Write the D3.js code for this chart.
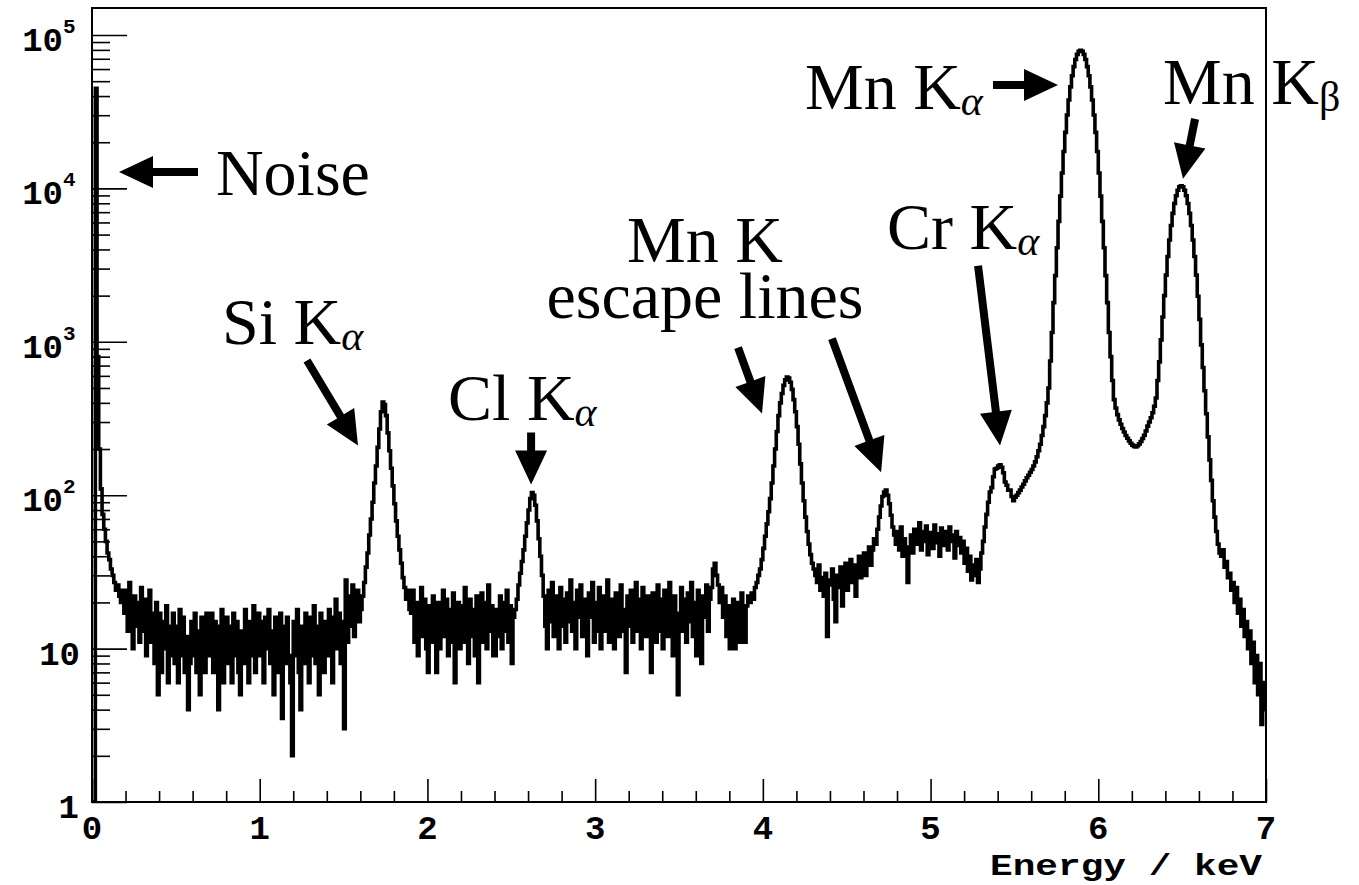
<!DOCTYPE html>
<html><head><meta charset="utf-8">
<script src="https://cdn.jsdelivr.net/npm/d3@7"></script>
<style>body{margin:0;background:#fff}</style>
</head><body>
<svg id="c" width="1359" height="885"></svg>
<script>
// ---- data: counts per 0.01 keV bin ----
const binWidth = 0.01;
const countsNoisePeak = [1,1,45000,800,200,110,75,60,50,42,38,33,30,27,24,26,22,20,24,17];
const countsLow = [
  24,13,27,16,10,22,14,20,11,25,
  13,21,9,18,24,11,17,8,20,5,
  17,7,15,10,19,6,14,9,17,8,
  14,6,18,9,16,7,12,4,8,15,
  9,17,7,13,5,16,10,7,17,9,
  13,17,7,15,8,4,14,18,6,12,
  16,8,14,6,17,9,15,7,5,13,
  8,18,11,6,15,9,19,7,14,17,
  9,15,6,16,10,18,8,13,5,16,
  11,7,17,3.5,14,8,16,9,6,2,
  15,9,18,7,4,14,8,17,10,6,
  16,9,19,8,14,5,17,10,7,15,
  9,18,12,6,16,21,10,17,8,15,
  3,28,11,22,14,26,12,19,24,15];
const countsSi = [18,22,27,34,42,55,70,90,120,155,205,270,350,405,390,330,255,195,150,115,
  88,68,54,44,36,29,25,21,24,18];
const countsSiCl = [
  17,24,11,20,9,18,25,12,21,10,
  7,19,11,22,14,7,20,10,17,24,
  12,21,9,18,11,23,6,16,20,10,
  19,11,25,13,8,21,12,18,9,22,
  6,17,23,11,20,10,26,13,19,9,
  9,18,12,22,10,20,13,24,11,19,
  8,16];
const countsCl = [18,21,26,31,37,44,54,66,80,95,104,100,86,68,52,40,30,22,14,10];
const countsClEsc = [
  24,15,27,12,22,17,10,25,14,21,
  11,23,15,28,13,20,10,24,16,26,
  12,21,15,9,23,16,27,11,20,13,
  25,10,19,22,13,28,11,21,15,10,
  23,15,12,26,18,13,7,22,14,24,
  11,20,27,13,21,10,25,15,12,22,
  14,7,23,17,11,26,13,21,10,24,
  16,12,27,18,9,22,14,5,17,25,
  13,21,11,23,15,27,12,20,9,24,
  15,8,22,16,26,13,21,25,33,36,
  30,26,20,25,16,22,12,19,10,17,
  21,10,14,20,11,23,15,11,19,22];
const countsEsc1 = [20,23,21,25,27,30,33,38,45,54,65,78,95,120,155,200,260,330,400,460,
  520,565,590,580,545,490,420,350,280,215,160,120,92,72,58,48,41,36];
const countsEsc2 = [
  33,30,27,35,24,29,22,31,12,26,
  28,33,21,15,30,25,34,19,28,36,
  24,31,38,27,35,22,33,40,29,37,
  42,30,39,46,35,44,52,48,60,72,
  85,98,105,108,100,88,74,62,55,48,
  58,44,62,40,52,42,27,46,55,42,
  60,48,55,66,44,58,50,63,41,57,
  52,45,64,49,56,40,61,53,47,58,
  44,62,50,55,39,58,47,53,42,50,
  36,45,32,40,28,35,30,38,27,33,
  42,50];
const countsCr = [62,75,90,105,112,132,148,150,155,158,152,140,122,116,108,108,98,92,97,100,
  104,108,113,118,124,130,135,141];
const countsMnKa = [
  147,155,165,178,195,215,245,280,330,400,
  500,750,1150,1800,2700,4100,6100,8900,12600,17400,
  23200,30100,37700,45900,54300,62200,69300,74800,78200,79400,
  78200,74800,69300,62200,54300,45900,37700,30100,23200,17400,
  12600,8900,6100,4100,2700,1800,1150,800,560,420,
  370,335,310,290,272,258,245,235,226,218];
const countsMnKb = [
  212,208,206,210,216,224,234,246,262,282,
  300,320,345,380,430,560,740,1030,1450,2000,
  2720,3600,4610,5730,6870,7980,8950,9730,10230,10400,
  10230,9730,8950,7980,6870,5730,4610,3600,2720,1980,
  1400,955,680,480,340,240,170,125,92,72,
  58,48,42,40,44,34,37,29,31,24,
  27,20,25,17,21,14,18,12,15,10,
  13,8,11,6,9,5,8,3.2,6,4];
const counts = [].concat(countsNoisePeak, countsLow, countsSi, countsSiCl, countsCl,
  countsClEsc, countsEsc1, countsEsc2, countsCr, countsMnKa, countsMnKb);

const xTicks = [0,1,2,3,4,5,6,7];
const yDecades = [0,1,2,3,4,5];

// annotations in data coordinates [keV, counts]
const labels = [
  {t:"Noise", s:"", x:0.739, y:9080, a:"start"},
  {t:"Si K", s:"α", x:0.775, y:973, a:"start"},
  {t:"Cl K", s:"α", x:2.123, y:307, a:"start"},
  {t:"Mn K", s:"", x:3.655, y:3300, a:"middle"},
  {t:"escape lines", s:"", x:3.655, y:1438, a:"middle"},
  {t:"Cr K", s:"α", x:4.740, y:4045, a:"start"},
  {t:"Mn K", s:"α", x:4.251, y:33000, a:"start"},
  {t:"Mn K", s:"β", x:6.386, y:35550, a:"start"}
];
const arrows = [
  [[0.632,12820],[0.161,12820]],
  [[1.282,755],[1.586,211]],
  [[2.618,256],[2.618,117.6]],
  [[3.852,917],[3.995,341]],
  [[4.412,1050],[4.705,141]],
  [[5.283,3133],[5.414,211]],
  [[5.372,47230],[5.760,47230]],
  [[6.577,28380],[6.505,11550]]
];

// ---- drawing ----
const svg = d3.select("#c");
const L=92, R=1266, T=8, B=802;
const x = d3.scaleLinear().domain([0,7]).range([L,R]);
const y = d3.scaleLog().domain([1,1.5e5]).range([B,T]);

svg.append("defs").append("clipPath").attr("id","clip")
  .append("rect").attr("x",L).attr("y",T).attr("width",R-L).attr("height",B-T);

const pts = counts.map((c,i)=>[i*binWidth, c]);
pts.push([counts.length*binWidth, counts[counts.length-1]]);
const line = d3.line().x(d=>x(d[0])).y(d=>y(d[1])).curve(d3.curveStepAfter);
svg.append("path").attr("d", line(pts)).attr("clip-path","url(#clip)")
  .attr("fill","none").attr("stroke","#000").attr("stroke-width",3.6);

// ticks
const majY = yDecades.map(e=>Math.pow(10,e));
const minY = [];
yDecades.forEach(e=>{ for(let k=2;k<=9;k++){ const v=k*Math.pow(10,e); if(v<1.5e5) minY.push(v);} });
function styleAxis(g){ g.select(".domain").remove(); g.selectAll("line").attr("stroke","#000").attr("stroke-width",1.6); g.selectAll("text").remove(); }
svg.append("g").attr("transform",`translate(${L},0)`)
  .call(d3.axisLeft(y).tickValues(majY).tickSize(-35).tickFormat("")).call(styleAxis);
svg.append("g").attr("transform",`translate(${L},0)`)
  .call(d3.axisLeft(y).tickValues(minY).tickSize(-18).tickFormat("")).call(styleAxis);
const minX = d3.range(0,36).map(i=>i*0.2).filter(v=>Math.abs(v-Math.round(v))>1e-6 && v<7);
svg.append("g").attr("transform",`translate(0,${B})`)
  .call(d3.axisBottom(x).tickValues(xTicks).tickSize(-23).tickFormat("")).call(styleAxis);
svg.append("g").attr("transform",`translate(0,${B})`)
  .call(d3.axisBottom(x).tickValues(minX).tickSize(-11).tickFormat("")).call(styleAxis);

// frame
svg.append("rect").attr("x",L).attr("y",T).attr("width",R-L).attr("height",B-T)
  .attr("fill","none").attr("stroke","#000").attr("stroke-width",2);

// tick labels
const mono = "'Liberation Mono','DejaVu Sans Mono',monospace";
svg.append("g").selectAll("text").data(xTicks).join("text")
  .attr("x",d=>x(d)).attr("y",839).attr("text-anchor","middle")
  .attr("font-family",mono).attr("font-weight","bold").attr("font-size",34).text(d=>d);
yDecades.forEach(e=>{
  const v=Math.pow(10,e), yy=y(v);
  if(e===0){
    svg.append("text").attr("x",79).attr("y",yy+16).attr("text-anchor","end")
      .attr("font-family",mono).attr("font-weight","bold").attr("font-size",34).text("1");
  } else if(e===1){
    svg.append("text").attr("x",80).attr("y",yy+16).attr("text-anchor","end")
      .attr("font-family",mono).attr("font-weight","bold").attr("font-size",34).text("10");
  } else {
    svg.append("text").attr("x",63).attr("y",yy+16).attr("text-anchor","end")
      .attr("font-family",mono).attr("font-weight","bold").attr("font-size",34).text("10");
    svg.append("text").attr("x",63).attr("y",yy-2).attr("text-anchor","start")
      .attr("font-family",mono).attr("font-weight","bold").attr("font-size",21).text(e);
  }
});
svg.append("text").attr("x",1262).attr("y",875).attr("text-anchor","end")
  .attr("font-family",mono).attr("font-weight","bold").attr("font-size",30)
  .attr("textLength",272).attr("lengthAdjust","spacingAndGlyphs").text("Energy / keV");

// annotation labels
const serif = "'Liberation Serif','DejaVu Serif',serif";
labels.forEach(l=>{
  const t = svg.append("text").attr("x",x(l.x)).attr("y",y(l.y)).attr("text-anchor",l.a)
    .attr("font-family",serif).attr("font-size",66);
  t.append("tspan").text(l.t);
  if(l.s){
    t.append("tspan").attr("font-size",42).attr("dy",l.s==="β"?7:6)
      .attr("font-style",l.s==="α"?"italic":"normal").text(l.s);
  }
});

// arrows
function arrowPath(p0,p1,sw,hl,hw){
  const dx=p1[0]-p0[0], dy=p1[1]-p0[1], len=Math.hypot(dx,dy);
  const ux=dx/len, uy=dy/len, nx=-uy, ny=ux;
  const bx=p1[0]-ux*hl, by=p1[1]-uy*hl;
  const P=[
    [p0[0]+nx*sw/2,p0[1]+ny*sw/2],[bx+nx*sw/2,by+ny*sw/2],[bx+nx*hw/2,by+ny*hw/2],
    p1,[bx-nx*hw/2,by-ny*hw/2],[bx-nx*sw/2,by-ny*sw/2],[p0[0]-nx*sw/2,p0[1]-ny*sw/2]];
  return "M"+P.map(p=>p[0].toFixed(1)+","+p[1].toFixed(1)).join("L")+"Z";
}
arrows.forEach(a=>{
  const p0=[x(a[0][0]),y(a[0][1])], p1=[x(a[1][0]),y(a[1][1])];
  svg.append("path").attr("d",arrowPath(p0,p1,8,34,32)).attr("fill","#000");
});
</script>
</body></html>
